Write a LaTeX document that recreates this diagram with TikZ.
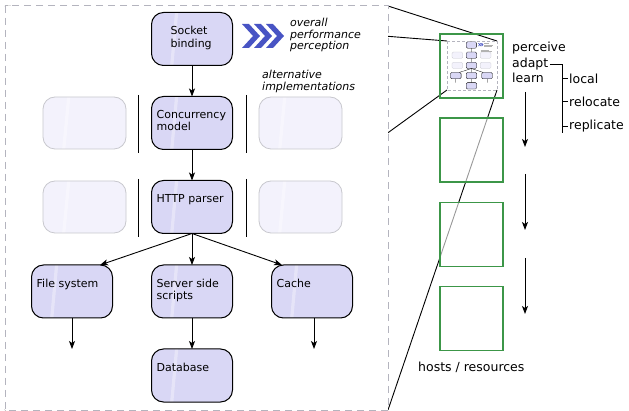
\documentclass[tikz,border=0pt]{standalone}
\usepackage{fontspec}
\setmainfont{DejaVu Sans}
\usetikzlibrary{arrows.meta,calc}
\definecolor{nodefill}{RGB}{217,215,245}
\definecolor{ghostfill}{RGB}{243,242,252}
\definecolor{ghostdraw}{RGB}{200,200,206}
\definecolor{dashgray}{RGB}{180,180,190}
\definecolor{chev}{RGB}{72,84,196}
\definecolor{hostgreen}{RGB}{60,150,72}
\begin{document}
\begin{tikzpicture}[x=1pt,y=-1pt,
  stripe/.style={path picture={\fill[white,opacity=.35,sharp corners]
    ($(path picture bounding box.north west)!.29!(path picture bounding box.north east)$) --
    ($(path picture bounding box.north west)!.33!(path picture bounding box.north east)$) --
    ($(path picture bounding box.south west)!.27!(path picture bounding box.south east)$) --
    ($(path picture bounding box.south west)!.23!(path picture bounding box.south east)$) -- cycle;}},
  box/.style={draw=black, line width=1pt, rounded corners=12pt, fill=nodefill, minimum width=81pt, minimum height=53pt, inner sep=0pt, outer sep=0pt, stripe},
  ghost/.style={draw=ghostdraw, line width=0.8pt, rounded corners=12pt, fill=ghostfill, minimum width=83pt, minimum height=52pt, inner sep=0pt, stripe},
  lbl/.style={anchor=north west, inner sep=0pt, align=left, font=\fontsize{11}{12.5}\selectfont},
  itl/.style={anchor=north west, inner sep=0pt, align=left, font=\itshape\fontsize{11}{11.5}\selectfont},
  rt/.style={anchor=base west, inner sep=0pt, font=\fontsize{12.5}{15}\selectfont},
  arr/.style={-{Stealth[length=8pt,width=6pt,inset=2pt]}, line width=0.9pt},
  sepline/.style={line width=0.9pt},
  hostbox/.style={draw=hostgreen, line width=1.5pt, minimum width=63pt, minimum height=64pt, inner sep=0pt},
  minibox/.style={fill=nodefill, draw=black, line width=0.3pt, rounded corners=1.3pt},
  minighost/.style={fill=ghostfill, draw=ghostdraw, line width=0.3pt, rounded corners=1.3pt}
]
\useasboundingbox (0,0) rectangle (629,411);

% corners of the big frame and the thumbnail frame
\coordinate (bnw) at (5,6);
\coordinate (bne) at (388,6);
\coordinate (bsw) at (5,410);
\coordinate (bse) at (388,410);
\coordinate (tnw) at (447,41);
\coordinate (tne) at (497,41);
\coordinate (tsw) at (447,90);
\coordinate (tse) at (497,90);

% projection lines
\draw[line width=0.9pt] (bnw) -- (tnw);
\draw[line width=0.9pt] (bne) -- (tne);
\draw[line width=0.9pt] (bsw) -- (tsw);
\draw[line width=0.9pt] (bse) -- (tse);

% big dashed frame
\draw[dashgray, line width=1pt, dash pattern=on 7pt off 5pt, fill=white] (bnw) rectangle (bse);

% ghost boxes and separators
\node[ghost] (g1l) at (84.5,123) {};
\node[ghost] (g1r) at (300.5,123) {};
\node[ghost] (g2l) at (84.5,207) {};
\node[ghost] (g2r) at (300.5,207) {};
\draw[sepline] (138,95) -- (138,153);
\draw[sepline] (246,95) -- (246,153);
\draw[sepline] (138,179) -- (138,237);
\draw[sepline] (246,179) -- (246,237);

% main nodes
\node[box] (sock) at (192,39) {};
\node[box] (conc) at (192,123) {};
\node[box] (http) at (192,207) {};
\node[box] (fs) at (72,291.5) {};
\node[box] (sss) at (192,291.5) {};
\node[box] (cache) at (312,291.5) {};
\node[box] (db) at (192,375.5) {};

\node[lbl] (tsock) at ([xshift=19pt,yshift=-13.6pt]sock.north west) {Socket\\binding};
\node[lbl] (tconc) at ([xshift=5pt,yshift=-13.6pt]conc.north west) {Concurrency\\model};
\node[lbl] (thttp) at ([xshift=5pt,yshift=-13.6pt]http.north west) {HTTP parser};
\node[lbl] (tfs) at ([xshift=5pt,yshift=-13.6pt]fs.north west) {File system};
\node[lbl] (tsss) at ([xshift=5pt,yshift=-13.6pt]sss.north west) {Server side\\scripts};
\node[lbl] (tcache) at ([xshift=5pt,yshift=-13.6pt]cache.north west) {Cache};
\node[lbl] (tdb) at ([xshift=5pt,yshift=-13.6pt]db.north west) {Database};

% arrows
\coordinate (fsout) at (72,349);
\coordinate (cacheout) at (314,349);
\draw[arr] (sock.south) -- (conc.north);
\draw[arr] (conc.south) -- (http.north);
\draw[arr] (http.south) -- ([xshift=28pt]fs.north);
\draw[arr] (http.south) -- (sss.north);
\draw[arr] (http.south) -- ([xshift=-30pt]cache.north);
\draw[arr] (fs.south) -- (fsout);
\draw[arr] ([xshift=2pt]cache.south) -- (cacheout);
\draw[arr] (sss.south) -- (db.north);

% chevrons and italic labels
\foreach \dx in {0,12,24}
  \fill[chev] (242+\dx,24) -- ++(7,0) -- ++(11,12) -- ++(-11,12) -- ++(-7,0) -- ++(11,-12) -- cycle;
\node[itl] (perf) at (290,18.3) {overall\\performance\\perception};
\node[itl] (alt) at (262,70.4) {alternative\\implementations};

% thumbnail
\begin{scope}[shift={(446.35,40.27)}, xscale=0.1305, yscale=0.1213]
  \filldraw[minighost] (43,97) rectangle (126,149);
  \filldraw[minighost] (259,97) rectangle (342,149);
  \filldraw[minighost] (43,181) rectangle (126,233);
  \filldraw[minighost] (259,181) rectangle (342,233);
  \filldraw[minibox] (152,13) rectangle (232,65);
  \filldraw[minibox] (152,97) rectangle (233,149);
  \filldraw[minibox] (152,181) rectangle (233,233);
  \filldraw[minibox] (31,265) rectangle (113,318);
  \filldraw[minibox] (152,265) rectangle (233,318);
  \filldraw[minibox] (271,265) rectangle (353,318);
  \filldraw[minibox] (152,349) rectangle (233,402);
  \draw[line width=0.3pt] (192,65) -- (192,97) (192,149) -- (192,181)
     (192,233) -- (100,265) (192,233) -- (192,265) (192,233) -- (282,265)
     (72,318) -- (72,349) (314,318) -- (314,349) (192,318) -- (192,349);
  \foreach \dx in {0,12,24}
    \fill[chev] (242+\dx,24) -- ++(7,0) -- ++(11,12) -- ++(-11,12) -- ++(-7,0) -- ++(11,-12) -- cycle;
  \draw[gray!60, line width=0.4pt] (290,25) -- (330,25) (290,37) -- (360,37) (290,49) -- (350,49)
     (262,78) -- (330,78) (262,89) -- (350,89);
\end{scope}
\draw[dashgray, line width=0.7pt, dash pattern=on 3pt off 2pt] (tnw) rectangle (tse);

% hosts
\node[hostbox] (h1) at (471.5,66) {};
\node[hostbox, fill=white, fill opacity=0.6] (h2) at (471.5,150) {};
\node[hostbox, fill=white, fill opacity=0.6] (h3) at (471.5,234.5) {};
\node[hostbox, fill=white, fill opacity=0.6] (h4) at (471.5,318.5) {};

\node[rt] (perc) at (512,52) {perceive};
\node[rt] (adapt) at (512,67.5) {adapt};
\node[rt] (learn) at (512,83) {learn};
\node[rt] (local) at (569,83.5) {local};
\node[rt] (reloc) at (569,106.5) {relocate};
\node[rt] (repl) at (569,129.5) {replicate};
\coordinate (bk) at (562,133);
\draw[line width=0.8pt] ([xshift=1.5pt]adapt.east) -| (bk);
\draw[line width=0.8pt] (bk |- local.west) -- ([xshift=-1pt]local.west);
\draw[line width=0.8pt] (bk |- reloc.west) -- ([xshift=-1pt]reloc.west);
\draw[line width=0.8pt] (bk |- repl.west) -- ([xshift=-1pt]repl.west);

\coordinate (a1s) at (525,92);
\coordinate (a1e) at (525,147);
\coordinate (a2s) at (525,174);
\coordinate (a2e) at (525,230);
\coordinate (a3s) at (525,258);
\coordinate (a3e) at (525,314);
\draw[arr] (a1s) -- (a1e);
\draw[arr] (a2s) -- (a2e);
\draw[arr] (a3s) -- (a3e);

\node[rt] (hosts) at (418,371.5) {hosts / resources};
\end{tikzpicture}
\end{document}
